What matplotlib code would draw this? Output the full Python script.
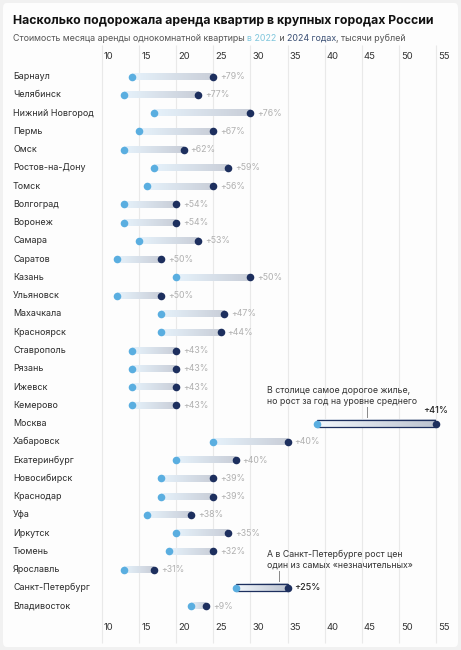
import numpy as np
import matplotlib
matplotlib.use('Agg')
import matplotlib.pyplot as plt
import matplotlib.transforms as mtransforms
from matplotlib.colors import LinearSegmentedColormap
from matplotlib.patches import Rectangle, FancyBboxPatch

plt.rcParams['font.family'] = ['Inter', 'DejaVu Sans']

# data (тысячи рублей)
cities = ['Барнаул', 'Челябинск', 'Нижний Новгород', 'Пермь', 'Омск', 'Ростов-на-Дону',
          'Томск', 'Волгоград', 'Воронеж', 'Самара', 'Саратов', 'Казань', 'Ульяновск',
          'Махачкала', 'Красноярск', 'Ставрополь', 'Рязань', 'Ижевск', 'Кемерово',
          'Москва', 'Хабаровск', 'Екатеринбург', 'Новосибирск', 'Краснодар', 'Уфа',
          'Иркутск', 'Тюмень', 'Ярославль', 'Санкт-Петербург', 'Владивосток']
rent_2022 = [14, 13, 17, 15, 13, 17, 16, 13, 13, 15, 12, 20, 12, 18, 18, 14, 14, 14, 14,
             39, 25, 20, 18, 18, 16, 20, 19, 13, 28, 22]
rent_2024 = [25, 23, 30, 25, 21, 27, 25, 20, 20, 23, 18, 30, 18, 26.5, 26, 20, 20, 20, 20,
             55, 35, 28, 25, 25, 22, 27, 25, 17, 35, 24]
growth = [79, 77, 76, 67, 62, 59, 56, 54, 54, 53, 50, 50, 50, 47, 44, 43, 43, 43, 43,
          41, 40, 40, 39, 39, 38, 35, 32, 31, 25, 9]
x_ticks = [10, 15, 20, 25, 30, 35, 40, 45, 50, 55]
highlight = ['Москва', 'Санкт-Петербург']
notes = {'Москва': ('В столице самое дорогое жилье,\nно рост за год на уровне среднего', 45.7),
         'Санкт-Петербург': ('А в Санкт-Петербурге рост цен\nодин из самых «незначительных»', 33.85)}

LIGHT = '#5aaee0'
DARK = '#1d2f5e'
W, H = 461, 650

fig = plt.figure(figsize=(W / 100, H / 100), dpi=100)
fig.patch.set_facecolor('#f1f1f1')
card = FancyBboxPatch((3 / W, 3 / H), (W - 6) / W, (H - 6) / H,
                      boxstyle='round,pad=0,rounding_size=0.008',
                      transform=fig.transFigure, facecolor='#fdfdfd', edgecolor='none',
                      zorder=-10)
fig.patches.append(card)

ax = fig.add_axes([102 / W, 1 - 617 / H, 334 / W, (617 - 60) / H])
ax.set_facecolor('none')
ax.set_zorder(2)
for s in ax.spines.values():
    s.set_visible(False)

n = len(cities)
ys = np.arange(n)

# vertical grid running through the tick label rows
ax.vlines(x_ticks, -1.74, n + 1.05, color='#e9e9e9', lw=0.8, zorder=0, clip_on=False)

grad = np.linspace(0, 1, 256).reshape(1, -1)
cmap = LinearSegmentedColormap.from_list('bar', ['#e6f2fb', '#c9ced8'])
cmap_hl = LinearSegmentedColormap.from_list('bar_hl', ['#f2f7fc', '#bcc3d0'])

for i, c in enumerate(cities):
    a, b = rent_2022[i], rent_2024[i]
    if c in highlight:
        ax.imshow(grad, extent=(a, b, i + 0.2, i - 0.2), cmap=cmap_hl, aspect='auto',
                  zorder=2, interpolation='bilinear')
        ax.add_patch(Rectangle((a, i - 0.2), b - a, 0.4, fill=False, edgecolor=DARK,
                               lw=0.9, zorder=3))
    else:
        ax.imshow(grad, extent=(a, b, i + 0.18, i - 0.18), cmap=cmap, aspect='auto',
                  zorder=2, interpolation='bilinear')

ax.scatter(rent_2022, ys, s=30, color=LIGHT, zorder=4, clip_on=False, linewidths=0)
ax.scatter(rent_2024, ys, s=30, color=DARK, zorder=5, clip_on=False, linewidths=0)

for i, c in enumerate(cities):
    label = '+%d%%' % growth[i]
    if c == 'Москва':
        ax.annotate(label, (rent_2024[i], i), xytext=(0, 6), textcoords='offset points',
                    ha='center', va='bottom', fontsize=6.5, color='#222222', weight='medium')
    elif c == 'Санкт-Петербург':
        ax.annotate(label, (rent_2024[i], i), xytext=(5, 0), textcoords='offset points',
                    ha='left', va='center', fontsize=6.5, color='#222222', weight='medium')
    else:
        ax.annotate(label, (rent_2024[i], i), xytext=(5, 0), textcoords='offset points',
                    ha='left', va='center', fontsize=6.3, color='#b0b0b0')
    if c in notes:
        txt, lx = notes[c]
        ax.text(32.2, i - 0.98, txt, ha='left', va='bottom', fontsize=6.3,
                color='#333333', linespacing=1.3)
        ax.plot([lx, lx], [i - 0.9, i - 0.38], color='#888888', lw=0.7, zorder=3)

# city names
trans = mtransforms.blended_transform_factory(fig.transFigure, ax.transData)
for i, c in enumerate(cities):
    ax.text(13 / W, i, c, transform=trans, ha='left', va='center', fontsize=6.45,
            color='#2a2a2a')

ax.set_xlim(10, 55)
ax.set_ylim(n - 1 + 0.6, -0.915)
ax.set_yticks([])
ax.set_xticks(x_ticks)
ax.set_xticklabels([str(t) for t in x_ticks])
ax.tick_params(axis='x', length=0, top=True, labeltop=True, labelbottom=True,
               labelsize=6.8, labelcolor='#333333', pad=4)
shift_bottom = mtransforms.ScaledTranslation(2 / 100, 0, fig.dpi_scale_trans)
shift_top = mtransforms.ScaledTranslation(2 / 100, -6.5 / 100, fig.dpi_scale_trans)
for t in ax.xaxis.get_major_ticks():
    t.label1.set_ha('left')
    t.label1.set_transform(t.label1.get_transform() + shift_bottom)
    t.label2.set_ha('left')
    t.label2.set_transform(t.label2.get_transform() + shift_top)

# title and subtitle
fig.text(13 / W, 1 - 20 / H, 'Насколько подорожала аренда квартир в крупных городах России',
         fontsize=8.85, weight='bold', color='#111111', ha='left', va='center')
parts = [('Стоимость месяца аренды однокомнатной квартиры ', '#555555'),
         ('в 2022', '#7fc6dc'), (' и ', '#555555'), ('2024 годах', '#3b5075'),
         (', тысячи рублей', '#555555')]
renderer = fig.canvas.get_renderer()
x = 13 / W
for s, col in parts:
    t = fig.text(x, 1 - 41 / H, s, fontsize=6.4, color=col, ha='left', va='baseline')
    bb = t.get_window_extent(renderer=renderer)
    x += bb.width / W

fig.savefig('out.png', dpi=100, facecolor=fig.get_facecolor())
